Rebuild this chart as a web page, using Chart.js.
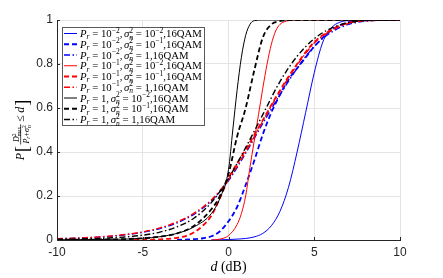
<!DOCTYPE html>
<html>
<head>
<meta charset="utf-8">
<script src="https://cdn.jsdelivr.net/npm/chart.js@4.4.0/dist/chart.umd.min.js"></script>
<style>
  html, body { margin: 0; padding: 0; background: #fff; }
  #wrap { width: 443px; height: 278px; }
</style>
</head>
<body>
<div id="wrap"><canvas id="cdf" width="443" height="278"></canvas></div>
<script>
// tick labels
const xTicks = [-10, -5, 0, 5, 10];
const yTicks = [0, 0.2, 0.4, 0.6, 0.8, 1];

// legend text parts
const prLabels = ['10^-2', '10^-2', '10^-2', '10^-1', '10^-1', '10^-1', '1', '1', '1'];
const sigmaLabels = ['10^-2', '10^-1', '1', '10^-2', '10^-1', '1', '10^-2', '10^-1', '1'];
const modLabel = '16QAM';

// d (dB) and P values, one pair per curve
const dBlueSolid = [-1, 0, 0.5, 1, 1.5, 2, 2.5, 3, 3.5, 4, 4.5, 5, 5.5, 6, 6.5, 7, 7.5, 8, 10];
const pBlueSolid = [0, 0.002, 0.004, 0.007, 0.014, 0.03, 0.065, 0.13, 0.24, 0.4, 0.58, 0.76, 0.9, 0.965, 0.99, 0.998, 1, 1, 1];

const dBlueDash = [-3, -2, -1.5, -1, -0.5, 0, 0.5, 1, 1.5, 2, 2.5, 3, 3.5, 4, 4.5, 5, 5.5, 6, 6.5, 7, 7.5, 8, 10];
const pBlueDash = [0.001, 0.004, 0.008, 0.017, 0.04, 0.085, 0.15, 0.25, 0.36, 0.48, 0.58, 0.66, 0.73, 0.78, 0.83, 0.88, 0.92, 0.955, 0.975, 0.99, 0.997, 1, 1];

const dBlueDashDot = [-10, -9, -8, -7, -6, -5, -4, -3, -2, -1, 0, 1, 2, 3, 4, 5, 6, 7, 8, 10];
const pBlueDashDot = [0.005, 0.008, 0.011, 0.016, 0.024, 0.035, 0.052, 0.078, 0.118, 0.178, 0.27, 0.395, 0.53, 0.66, 0.78, 0.88, 0.945, 0.98, 0.995, 1];

const dRedSolid = [-1, -0.5, 0, 0.5, 0.75, 1, 1.25, 1.5, 1.75, 2, 2.25, 2.5, 2.75, 3, 3.5, 4, 10];
const pRedSolid = [0, 0.004, 0.02, 0.07, 0.12, 0.2, 0.33, 0.45, 0.57, 0.69, 0.8, 0.89, 0.95, 0.98, 0.997, 1, 1];

const dRedDash = [-5.5, -5, -4, -3, -2.5, -2, -1.5, -1, -0.5, 0, 1, 2, 3, 4, 5, 6, 7, 8, 10];
const pRedDash = [0, 0.001, 0.003, 0.01, 0.018, 0.035, 0.065, 0.11, 0.19, 0.28, 0.41, 0.545, 0.68, 0.8, 0.9, 0.955, 0.987, 0.998, 1];

const dRedDashDot = [-10, -9, -8, -7, -6, -5, -4, -3, -2, -1, 0, 1, 2, 3, 4, 5, 6, 7, 8, 10];
const pRedDashDot = [0.006, 0.008, 0.012, 0.017, 0.025, 0.037, 0.055, 0.082, 0.122, 0.182, 0.275, 0.4, 0.54, 0.675, 0.795, 0.895, 0.952, 0.985, 0.997, 1];

const dBlackSolid = [-10, -8, -6, -5, -4, -3, -2, -1, -0.5, 0, 0.25, 0.5, 0.75, 1, 1.25, 1.5, 2, 10];
const pBlackSolid = [0.001, 0.002, 0.004, 0.008, 0.015, 0.03, 0.06, 0.12, 0.19, 0.32, 0.5, 0.68, 0.83, 0.93, 0.98, 0.997, 1, 1];

const dBlackDash = [-10, -8, -6, -5, -4, -3, -2, -1, -0.5, 0, 0.5, 1, 1.5, 2, 2.5, 3, 3.5, 10];
const pBlackDash = [0.001, 0.002, 0.004, 0.008, 0.015, 0.03, 0.065, 0.14, 0.2, 0.3, 0.47, 0.6, 0.77, 0.92, 0.98, 0.995, 1, 1];

const dBlackDashDot = [-10, -9, -8, -7, -6, -5, -4, -3, -2, -1, 0, 1, 2, 3, 4, 5, 6, 7, 8, 10];
const pBlackDashDot = [0.003, 0.004, 0.006, 0.009, 0.014, 0.022, 0.036, 0.06, 0.1, 0.17, 0.28, 0.42, 0.57, 0.72, 0.835, 0.915, 0.963, 0.988, 0.998, 1];

const curveX = [dBlueSolid, dBlueDash, dBlueDashDot, dRedSolid, dRedDash, dRedDashDot, dBlackSolid, dBlackDash, dBlackDashDot];
const curveY = [pBlueSolid, pBlueDash, pBlueDashDot, pRedSolid, pRedDash, pRedDashDot, pBlackSolid, pBlackDash, pBlackDashDot];

// styles
const colors = ['#0000ff', '#0000ff', '#0000ff', '#ff0000', '#ff0000', '#ff0000', '#000000', '#000000', '#000000'];
const kinds = ['solid', 'dash', 'dashdot', 'solid', 'dash', 'dashdot', 'solid', 'dash', 'dashdot'];
const dashFor = { solid: [], dash: [5, 3], dashdot: [6, 2.5, 1.5, 2.5] };
const widthFor = { solid: 1, dash: 1.8, dashdot: 1.4 };

const SERIF = '"Liberation Serif", "Times New Roman", serif';
const SANS = '"Liberation Sans", Arial, Helvetica, sans-serif';
const AXIS = '#262626';

let dry = false;
function put(ctx, str, x, y, size, italic) {
    ctx.font = (italic ? 'italic ' : '') + size + 'px ' + SERIF;
    if (!dry) ctx.fillText(str, x, y);
    return ctx.measureText(str).width;
}

function putValue(ctx, label, x, y, f) {
    if (label.indexOf('^') < 0) return put(ctx, label, x, y, f, false);
    const parts = label.split('^');
    let w = put(ctx, parts[0], x, y, f, false);
    w += put(ctx, '\u2212' + parts[1].replace('-', ''), x + w, y - 0.4 * f, 0.7 * f, false);
    return w;
}

function legendRow(ctx, i, x, y, f) {
    let cx = x;
    cx += put(ctx, 'P', cx, y, f, true);
    cx += put(ctx, 'r', cx, y + 0.22 * f, 0.7 * f, true);
    cx += 0.25 * f;
    cx += put(ctx, '=', cx, y, f, false);
    cx += 0.25 * f;
    cx += putValue(ctx, prLabels[i], cx, y, f);
    cx += put(ctx, ',', cx, y, f, false);
    cx += 0.15 * f;
    cx += put(ctx, '\u03c3', cx, y, f, true);
    const a = put(ctx, '2', cx, y - 0.4 * f, 0.7 * f, false);
    const b = put(ctx, 'n', cx, y + 0.25 * f, 0.7 * f, true);
    cx += Math.max(a, b);
    cx += 0.25 * f;
    cx += put(ctx, '=', cx, y, f, false);
    cx += 0.25 * f;
    cx += putValue(ctx, sigmaLabels[i], cx, y, f);
    cx += put(ctx, ',' + modLabel, cx, y, f, false);
    return cx - x;
}

const mathLegend = {
    id: 'mathLegend',
    afterDraw(chart) {
        const ctx = chart.ctx;
        ctx.save();
        ctx.textBaseline = 'alphabetic';
        ctx.fillStyle = '#000';
        // fit the longest row to the width seen in the picture
        dry = true;
        let maxW = 0;
        for (let i = 0; i < prLabels.length; i++) maxW = Math.max(maxW, legendRow(ctx, i, 0, 0, 10));
        dry = false;
        const f = 10 * 122 / maxW;
        const bx = 62, by = 27, bw = 142, bh = 98;
        ctx.fillStyle = '#fff';
        ctx.fillRect(bx, by, bw, bh);
        ctx.strokeStyle = '#5a5a5a';
        ctx.lineWidth = 1;
        ctx.strokeRect(bx + 0.5, by + 0.5, bw, bh);
        const step = 10.75;
        chart.data.datasets.forEach((ds, i) => {
            const yc = 33.5 + i * step;
            ctx.save();
            ctx.strokeStyle = ds.borderColor;
            ctx.lineWidth = ds.borderWidth;
            ctx.setLineDash(ds.borderDash);
            ctx.beginPath();
            ctx.moveTo(64, yc);
            ctx.lineTo(77, yc);
            ctx.stroke();
            ctx.restore();
            ctx.fillStyle = '#000';
            legendRow(ctx, i, 80, yc + 0.33 * f, f);
        });
        ctx.restore();
    }
};

const axisText = {
    id: 'axisText',
    afterDraw(chart) {
        const ctx = chart.ctx;
        const area = chart.chartArea;
        ctx.save();
        ctx.fillStyle = '#000';
        ctx.textBaseline = 'alphabetic';

        // x title: d (dB)
        dry = true;
        let w = put(ctx, 'd', 0, 0, 14, true) + put(ctx, ' (dB)', 0, 0, 14, false);
        dry = false;
        let x0 = (area.left + area.right) / 2 - w / 2;
        x0 += put(ctx, 'd', x0, 271, 14, true);
        put(ctx, ' (dB)', x0, 271, 14, false);

        // y title: P[ D^2_max / (P_r + sigma^2_n) <= d ], rotated
        const f = 12, s = 8, t = 5.6;
        const drawLabel = () => {
            let u = 0;
            u += put(ctx, 'P', u, 0, f, true);
            u += 1;
            u += put(ctx, '[', u, 3.5, 18, false);
            u += 1.5;
            const saved = dry;
            dry = true;
            const numW = put(ctx, 'D', 0, 0, s, true) + Math.max(put(ctx, '2', 0, 0, t, false), put(ctx, 'max', 0, 0, t, false));
            const denW = put(ctx, 'P', 0, 0, s, true) + put(ctx, 'r', 0, 0, t, true) + put(ctx, '+', 0, 0, s, false) +
                put(ctx, '\u03c3', 0, 0, s, true) + Math.max(put(ctx, '2', 0, 0, t, false), put(ctx, 'n', 0, 0, t, true));
            dry = saved;
            const fw = Math.max(numW, denW) + 2;
            let nu = u + (fw - numW) / 2;
            nu += put(ctx, 'D', nu, -5, s, true);
            put(ctx, '2', nu, -8, t, false);
            put(ctx, 'max', nu, -3.2, t, false);
            let du = u + (fw - denW) / 2;
            du += put(ctx, 'P', du, 4.5, s, true);
            du += put(ctx, 'r', du, 6, t, true);
            du += put(ctx, '+', du, 4.5, s, false);
            du += put(ctx, '\u03c3', du, 4.5, s, true);
            put(ctx, '2', du, 2, t, false);
            put(ctx, 'n', du, 6.5, t, true);
            if (!dry) {
                ctx.fillRect(u, -3.6, fw, 0.7);
            }
            u += fw + 2.5;
            u += put(ctx, '\u2264', u, 0, f, false);
            u += 2.5;
            u += put(ctx, 'd', u, 0, f, true);
            u += 1;
            u += put(ctx, ']', u, 3.5, 18, false);
            return u;
        };
        dry = true;
        const len = drawLabel();
        dry = false;
        const yMid = (area.top + area.bottom) / 2;
        ctx.translate(24, yMid + len / 2);
        ctx.rotate(-Math.PI / 2);
        drawLabel();
        ctx.restore();

        // small inward tick marks like the original axes
        const xs = chart.scales.x, ys = chart.scales.y;
        ctx.save();
        ctx.strokeStyle = AXIS;
        ctx.lineWidth = 1;
        ctx.beginPath();
        xTicks.forEach(v => {
            const px = Math.round(xs.getPixelForValue(v)) + 0.5;
            ctx.moveTo(px, area.bottom);
            ctx.lineTo(px, area.bottom - 3);
        });
        yTicks.forEach(v => {
            const py = Math.round(ys.getPixelForValue(v)) + 0.5;
            ctx.moveTo(area.left, py);
            ctx.lineTo(area.left + 3, py);
        });
        ctx.stroke();
        ctx.restore();
    }
};

const datasets = curveX.map((xs, i) => ({
    label: 'P_r=' + prLabels[i] + ', sigma_n^2=' + sigmaLabels[i] + ',' + modLabel,
    data: xs.map((d, k) => ({ x: d, y: curveY[i][k] })),
    borderColor: colors[i],
    borderWidth: widthFor[kinds[i]],
    borderDash: dashFor[kinds[i]],
    pointRadius: 0,
    fill: false,
    cubicInterpolationMode: 'monotone',
    order: 10 - i
}));

new Chart(document.getElementById('cdf'), {
    type: 'line',
    data: { datasets: datasets },
    options: {
        responsive: false,
        animation: false,
        layout: { padding: { top: 20, right: 43, left: 0, bottom: 0 } },
        plugins: {
            legend: { display: false },
            tooltip: { enabled: false }
        },
        scales: {
            x: {
                type: 'linear',
                min: -10,
                max: 10,
                afterBuildTicks: s => { s.ticks = xTicks.map(v => ({ value: v })); },
                afterFit: s => { s.height = 38; },
                ticks: {
                    font: { family: SANS, size: 12 },
                    color: AXIS,
                    padding: 5,
                    maxRotation: 0,
                    callback: v => String(v)
                },
                grid: { color: '#e4e4e4', drawTicks: false },
                border: { color: AXIS, width: 1 }
            },
            y: {
                type: 'linear',
                min: 0,
                max: 1,
                afterBuildTicks: s => { s.ticks = yTicks.map(v => ({ value: v })); },
                afterFit: s => { s.width = 57; },
                ticks: {
                    font: { family: SANS, size: 12 },
                    color: AXIS,
                    padding: 4,
                    callback: v => String(v)
                },
                grid: { color: '#e4e4e4', drawTicks: false },
                border: { color: AXIS, width: 1 }
            }
        }
    },
    plugins: [axisText, mathLegend]
});
</script>
</body>
</html>
